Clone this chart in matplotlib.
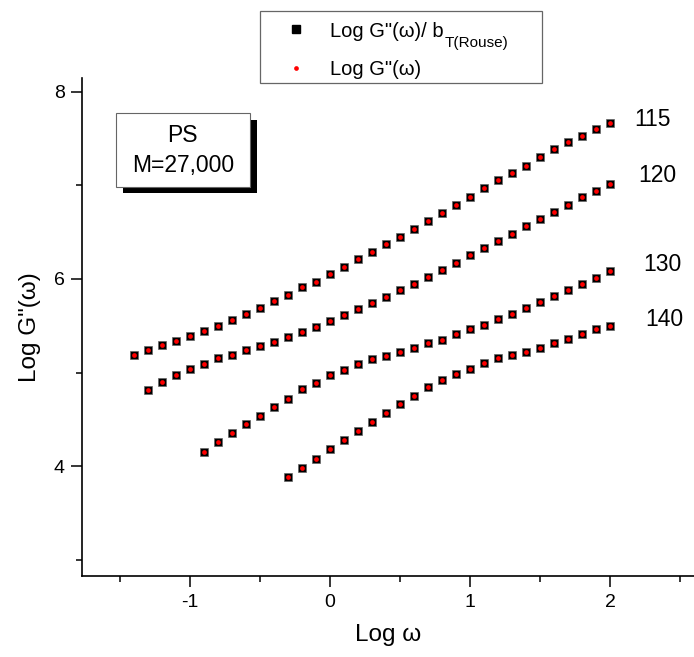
""" Log G''(ω) -- Log ω  (PS M=27,000, 各温度)

"""
import matplotlib
matplotlib.use('Agg')
import matplotlib.pyplot as plt
from matplotlib.patches import Rectangle
from matplotlib.lines import Line2D
from matplotlib.ticker import MultipleLocator

plt.rcParams['font.family'] = ['Liberation Sans', 'DejaVu Sans']
plt.rcParams['axes.unicode_minus'] = False

# Log ω (0.1 刻み, 一番長い系列 115 のもの)
log_w = [-1.4, -1.3, -1.2, -1.1, -1.0, -0.9, -0.8, -0.7, -0.6, -0.5,
         -0.4, -0.3, -0.2, -0.1, 0.0, 0.1, 0.2, 0.3, 0.4, 0.5,
         0.6, 0.7, 0.8, 0.9, 1.0, 1.1, 1.2, 1.3, 1.4, 1.5,
         1.6, 1.7, 1.8, 1.9, 2.0]

temps = ['115', '120', '130', '140']

g115 = [5.19, 5.24, 5.29, 5.34, 5.39, 5.44, 5.50, 5.56, 5.62, 5.69,
        5.76, 5.83, 5.91, 5.97, 6.05, 6.13, 6.21, 6.29, 6.37, 6.45,
        6.53, 6.62, 6.70, 6.79, 6.88, 6.97, 7.06, 7.13, 7.21, 7.30,
        7.39, 7.46, 7.53, 7.60, 7.67]
g120 = [4.81, 4.90, 4.97, 5.04, 5.09, 5.15, 5.19, 5.24, 5.28, 5.33,
        5.38, 5.43, 5.49, 5.55, 5.61, 5.68, 5.74, 5.81, 5.88, 5.95,
        6.02, 6.10, 6.17, 6.25, 6.33, 6.41, 6.48, 6.56, 6.64, 6.72,
        6.79, 6.87, 6.94, 7.01]
g130 = [4.15, 4.26, 4.35, 4.45, 4.54, 4.63, 4.72, 4.82, 4.89, 4.97,
        5.03, 5.09, 5.14, 5.18, 5.22, 5.26, 5.31, 5.35, 5.41, 5.46,
        5.51, 5.57, 5.63, 5.69, 5.75, 5.82, 5.88, 5.95, 6.01, 6.08]
g140 = [3.88, 3.98, 4.08, 4.18, 4.28, 4.38, 4.47, 4.57, 4.66, 4.75,
        4.84, 4.92, 4.98, 5.04, 5.10, 5.15, 5.19, 5.22, 5.26, 5.31,
        5.36, 5.41, 5.46, 5.50]

W, H = 694, 657


def fx(px):
    return px / W


def fy(py):
    return 1 - py / H


def main():
    fig = plt.figure(figsize=(W / 100, H / 100), dpi=100)
    ax = fig.add_axes([fx(81.7), fy(576), (W - 81.7) / W, (576 - 78.3) / H])

    for g in [g115, g120, g130, g140]:
        x = log_w[-len(g):]
        ax.plot(x, g, 's', ms=6.0, mfc='black', mec='0.4', mew=0.5,
                ls='none', zorder=3, clip_on=False)
        ax.plot(x, g, 'o', ms=3.4, mfc='red', mec='none',
                ls='none', zorder=4, clip_on=False)

    # 温度ラベル
    label_xy = [(2.30, 7.705), (2.34, 7.103), (2.375, 6.159), (2.385, 5.561)]
    for t, (tx, ty) in zip(temps, label_xy):
        ax.text(tx, ty, t, fontsize=16.5, ha='center', va='center')

    ax.set_xlim(-1.774, 2.6)
    ax.set_ylim(2.826, 8.143)
    ax.xaxis.set_major_locator(MultipleLocator(1))
    ax.xaxis.set_minor_locator(MultipleLocator(0.5))
    ax.yaxis.set_major_locator(MultipleLocator(2))
    ax.yaxis.set_minor_locator(MultipleLocator(1))
    for s in ['top', 'right']:
        ax.spines[s].set_visible(False)
    for s in ['left', 'bottom']:
        ax.spines[s].set_linewidth(1.2)
    ax.tick_params(which='major', direction='out', length=7.7, width=1.1,
                   labelsize=14)
    ax.tick_params(which='minor', direction='out', length=4.3, width=1.1)
    ax.tick_params(axis='x', which='major', pad=5.5)
    ax.tick_params(axis='y', which='major', pad=4.5)

    ax.set_xlabel('Log ω', fontsize=17.5)
    ax.set_ylabel('Log G"(ω)', fontsize=17.5)
    ax.xaxis.set_label_coords(0.5, -0.097)
    ax.yaxis.set_label_coords(-0.066, 0.5)

    # PS 箱 (影つき)
    fig.add_artist(Rectangle((fx(122.7), fy(193.3)), (257.3 - 122.7) / W,
                             (193.3 - 120.3) / H, transform=fig.transFigure,
                             facecolor='black', edgecolor='none'))
    fig.add_artist(Rectangle((fx(115.7), fy(186.7)), (249.7 - 115.7) / W,
                             (186.7 - 113.3) / H, transform=fig.transFigure,
                             facecolor='white', edgecolor='0.4', lw=0.8))
    fig.text(fx(182.7), fy(136), 'PS', fontsize=16.5, ha='center', va='center')
    fig.text(fx(182.7), fy(165.3), 'M=27,000', fontsize=16.5,
             ha='center', va='center')

    # 凡例 (手描き)
    fig.add_artist(Rectangle((fx(260), fy(82.7)), (541.7 - 260) / W,
                             (82.7 - 11) / H, transform=fig.transFigure,
                             facecolor='white', edgecolor='0.4', lw=0.9))
    fig.add_artist(Line2D([fx(295.7)], [fy(29)], marker='s', ms=6.0,
                          mfc='black', mec='black', ls='none',
                          transform=fig.transFigure))
    fig.add_artist(Line2D([fx(295.7)], [fy(67.7)], marker='o', ms=3.4,
                          mfc='red', mec='none', ls='none',
                          transform=fig.transFigure))
    t1 = fig.text(fx(330), fy(37.3), 'Log G"(ω)/ b', fontsize=14.5,
                  va='baseline', ha='left')
    fig.text(fx(330), fy(75), 'Log G"(ω)', fontsize=14.5,
             va='baseline', ha='left')
    r = fig.canvas.get_renderer()
    bb = t1.get_window_extent(r)
    fig.text(bb.x1 / W + 0.001, fy(46.7), 'T(Rouse)', fontsize=11,
             va='baseline', ha='left')

    fig.savefig('out.png', dpi=100)


if __name__ == '__main__':
    main()
